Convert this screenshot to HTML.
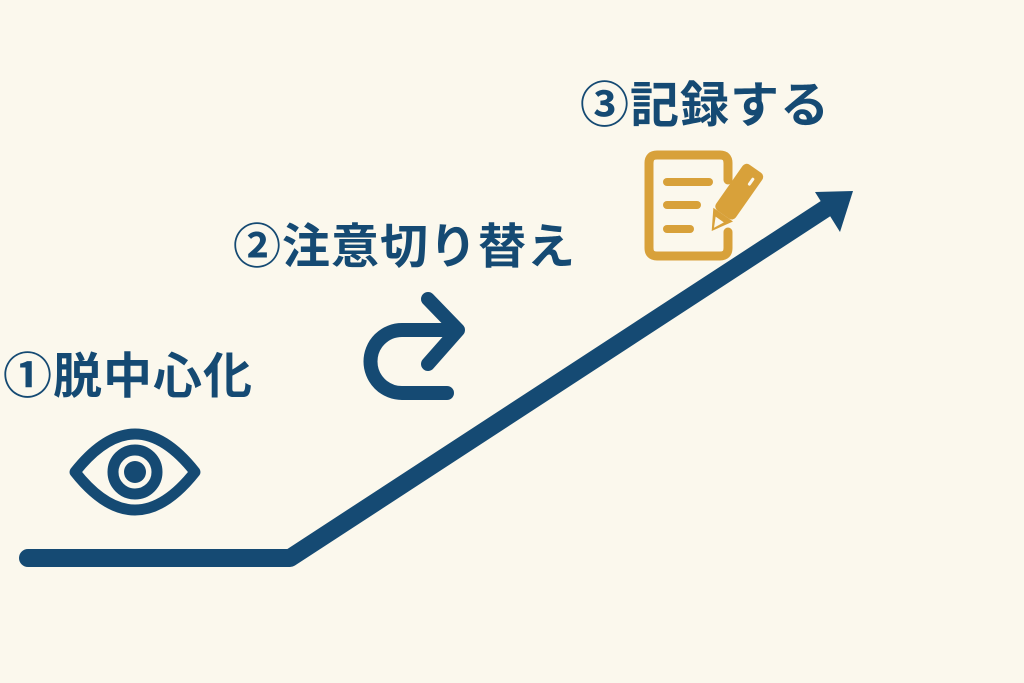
<!DOCTYPE html>
<html><head><meta charset="utf-8"><style>
html,body{margin:0;padding:0;background:#fbf8ed;}
svg{display:block}
text{font-family:"Liberation Sans","Noto Sans CJK JP",sans-serif;font-weight:700;fill:#154a73;letter-spacing:1px}
</style></head><body>
<svg width="1024" height="683" viewBox="0 0 1024 683" xmlns="http://www.w3.org/2000/svg">
<rect width="1024" height="683" fill="#fbf8ed"/>
<polyline points="28,558 290,558 828,207" fill="none" stroke="#154a73" stroke-width="18" stroke-linecap="round" stroke-linejoin="round"/>
<polygon points="853,191 815,192 840,232" fill="#154a73"/>
<text x="3" y="393" font-size="49">①脱中心化</text>
<text x="233" y="263" font-size="48">②注意切り替え</text>
<text x="580" y="122" font-size="49">③記録する</text>
<path d="M75,472 Q135,396 195,472 Q135,548 75,472 Z" fill="none" stroke="#154a73" stroke-width="11" stroke-linejoin="round"/>
<circle cx="135" cy="472" r="22" fill="none" stroke="#154a73" stroke-width="11"/>
<circle cx="135" cy="472" r="11" fill="#154a73"/>
<path d="M447,393 L402,393 A31.5,31.5 0 0 1 402,330 L455,330" fill="none" stroke="#154a73" stroke-width="14" stroke-linecap="round"/>
<polyline points="428,299 458,330 428,364" fill="none" stroke="#154a73" stroke-width="14" stroke-linecap="round" stroke-linejoin="round"/>
<path d="M728,232 L728,248 Q728,256 720,256 L657,256 Q649,256 649,248 L649,163 Q649,155 657,155 L720,155 Q728,155 728,163 L728,180" fill="none" stroke="#d8a13a" stroke-width="9" stroke-linecap="round"/>
<line x1="667" y1="182" x2="709" y2="182" stroke="#d8a13a" stroke-width="8" stroke-linecap="round"/>
<line x1="667" y1="205" x2="697" y2="205" stroke="#d8a13a" stroke-width="8" stroke-linecap="round"/>
<line x1="667" y1="229" x2="690" y2="229" stroke="#d8a13a" stroke-width="8" stroke-linecap="round"/>
<g transform="translate(753,172) rotate(125)">
<rect x="-4" y="-12" width="56" height="24" rx="5" fill="#d8a13a"/>
<polygon points="52,-12 72,0 52,12" fill="#d8a13a"/>
<polygon points="58,-5 68,0 58,5" fill="#fbf8ed"/>
<line x1="6" y1="-4" x2="12" y2="-4" stroke="#fbf8ed" stroke-width="3" stroke-linecap="round"/>
</g>
</svg>
</body></html>
